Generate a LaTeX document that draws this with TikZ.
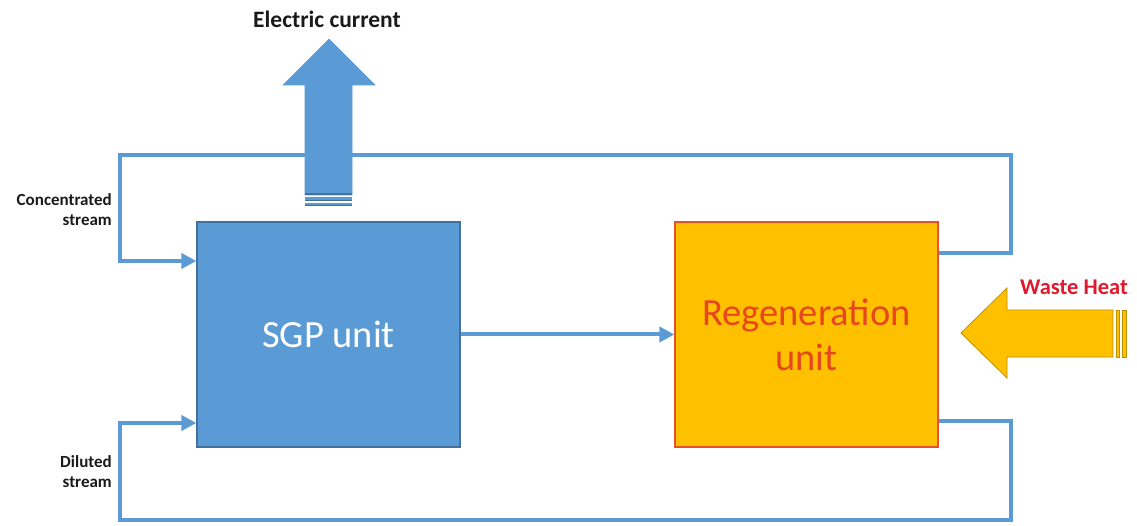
\documentclass[tikz,border=0pt]{standalone}
\usepackage{fontspec}
\setmainfont{Carlito}
\usetikzlibrary{arrows.meta}
\definecolor{bfill}{HTML}{5B9BD5}
\definecolor{bedge}{HTML}{41719C}
\definecolor{yfill}{HTML}{FFC000}
\definecolor{yedge}{HTML}{BF9000}
\definecolor{redge}{HTML}{E8502A}
\definecolor{rtext}{HTML}{E8461E}
\definecolor{wtext}{HTML}{E0192C}
\definecolor{dtext}{HTML}{1A1A1A}
\begin{document}
\begin{tikzpicture}[x=1pt,y=-1pt,
  unitbox/.style={draw, line width=1.2pt, minimum width=263pt, minimum height=225pt, inner sep=0pt, align=center, font=\fontsize{38.5}{45}\selectfont},
  flow/.style={draw=bfill, line width=4pt},
  flowarrow/.style={flow, -{Triangle[length=15pt,width=15pt]}, shorten >=0pt},
  lbl/.style={font=\fontsize{17}{20}\selectfont\bfseries, text=dtext, align=right, anchor=east, inner sep=0pt}
]
\useasboundingbox (0,0) rectangle (1137,526);
% units
\node[unitbox, fill=bfill, draw=bedge, text=white] (sgp) at (328.5,334.5) {SGP unit};
\node[unitbox, fill=yfill, draw=redge, text=rtext] (regen) at (806.5,334.5) {Regeneration\\unit};
% loop coordinates
\coordinate (tr1) at (1011,253);
\coordinate (tr2) at (1011,155);
\coordinate (tl1) at (120,155);
\coordinate (tl2) at (120,261);
\coordinate (br1) at (1011,421);
\coordinate (br2) at (1011,520);
\coordinate (bl1) at (120,520);
\coordinate (bl2) at (120,423);
% connectors
\draw[flowarrow] (regen.east |- tr1) -- (tr1) -- (tr2) -- (tl1) -- (tl2) -- (sgp.west |- tl2);
\draw[flowarrow] (regen.east |- br1) -- (br1) -- (br2) -- (bl1) -- (bl2) -- (sgp.west |- bl2);
\draw[flowarrow] (sgp.east) -- (regen.west);
% electric current block arrow
\filldraw[fill=bfill, draw=bfill, line width=0.6pt] (305,195) -- (305,85) -- (283,85) -- (329,39) -- (375,85) -- (352,85) -- (352,195) -- cycle;
\fill[bedge] (305,193.5) rectangle (352,195.5);
\fill[bfill] (305,197.5) rectangle (352,200.5);
\fill[bedge] (305,200.5) rectangle (352,201.3);
\fill[bfill] (305,203) rectangle (352,205.5);
\fill[bedge] (305,205.5) rectangle (352,206.3);
\node[font=\fontsize{23.5}{26}\selectfont\bfseries, text=dtext] (ec) at (327,19) {Electric current};
% waste heat block arrow
\filldraw[fill=yfill, draw=yedge, line width=0.8pt] (1113,310) -- (1007,310) -- (1007,288) -- (961,333) -- (1007,378) -- (1007,357) -- (1113,357) -- cycle;
\filldraw[fill=yfill, draw=yedge, line width=0.8pt] (1116,310) rectangle (1119,357);
\filldraw[fill=yfill, draw=yedge, line width=0.8pt] (1122,310) rectangle (1126,357);
\node[font=\fontsize{22.5}{26}\selectfont\bfseries, text=wtext, anchor=base] (wh) at (1074,295) {Waste Heat};
% labels
\node[lbl] (conc) at (112,210) {Concentrated\\stream};
\node[lbl] (dil) at (112,472) {Diluted\\stream};
\end{tikzpicture}
\end{document}
